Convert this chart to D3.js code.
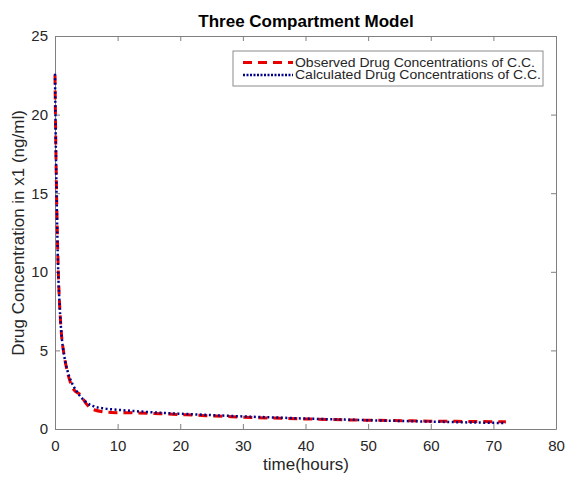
<!DOCTYPE html>
<html>
<head>
<meta charset="utf-8">
<script src="https://cdn.jsdelivr.net/npm/d3@7"></script>
<style>
body { margin: 0; background: #fff; }
text { font-family: "Liberation Sans", Arial, sans-serif; }
</style>
</head>
<body>
<svg id="chart" width="566" height="478"></svg>
<script>
// values
var obsTime = [0, 0.1, 0.25, 0.5, 0.75, 1, 1.5, 2, 3, 4, 5, 6, 9, 12, 15, 18, 21, 24, 27, 30, 36, 42, 48, 54, 60, 66, 72];
var obsConc = [22.5, 19, 15, 10.4, 7.8, 6.2, 4.6, 3.6, 2.5, 2.2, 1.6, 1.25, 1.05, 1.03, 1.0, 0.95, 0.9, 0.85, 0.8, 0.75, 0.68, 0.62, 0.57, 0.54, 0.5, 0.48, 0.46];
var calcTime = [0, 0.1, 0.25, 0.5, 0.75, 1, 1.5, 2, 2.5, 3, 4, 5, 6, 8, 10, 12, 16, 20, 24, 30, 36, 42, 48, 54, 60, 66, 72];
var calcConc = [22.6, 19, 15, 10.2, 7.8, 6.2, 4.6, 3.7, 3.1, 2.7, 2.1, 1.7, 1.47, 1.3, 1.22, 1.16, 1.05, 0.97, 0.9, 0.8, 0.72, 0.64, 0.58, 0.52, 0.47, 0.42, 0.38];
var xTicks = [0, 10, 20, 30, 40, 50, 60, 70, 80];
var yTicks = [0, 5, 10, 15, 20, 25];
var legendLabels = ["Observed Drug Concentrations of C.C.", "Calculated Drug Concentrations of C.C."];

var plotLeft = 55, plotRight = 556, plotTop = 36, plotBottom = 429;
var svg = d3.select("#chart");
var axisColor = "#808080", textColor = "#262626";

var x = d3.scaleLinear().domain([0, 80]).range([plotLeft, plotRight]);
var y = d3.scaleLinear().domain([0, 25]).range([plotBottom, plotTop]);

svg.append("rect")
	.attr("x", plotLeft).attr("y", plotTop)
	.attr("width", plotRight - plotLeft).attr("height", plotBottom - plotTop)
	.attr("fill", "#fff");

// axes, ticks pointing inward on all four sides
var styleAxis = function(g){
	g.select(".domain").attr("stroke", axisColor);
	g.selectAll(".tick line").attr("stroke", axisColor);
	g.selectAll(".tick text").attr("fill", textColor).style("font-size", "15px");
};

svg.append("g").attr("transform", "translate(0," + plotBottom + ")")
	.call(d3.axisBottom(x).tickValues(xTicks).tickSizeInner(-5).tickSizeOuter(0).tickPadding(11))
	.call(styleAxis);
svg.append("g").attr("transform", "translate(0," + plotTop + ")")
	.call(d3.axisTop(x).tickValues(xTicks).tickSizeInner(-5).tickSizeOuter(0).tickFormat(""))
	.call(styleAxis);
svg.append("g").attr("transform", "translate(" + plotLeft + ",0)")
	.call(d3.axisLeft(y).tickValues(yTicks).tickSizeInner(-5).tickSizeOuter(0).tickPadding(7))
	.call(styleAxis);
svg.append("g").attr("transform", "translate(" + plotRight + ",0)")
	.call(d3.axisRight(y).tickValues(yTicks).tickSizeInner(-5).tickSizeOuter(0).tickFormat(""))
	.call(styleAxis);

var line = d3.line().curve(d3.curveMonotoneX)
	.x(function(d){ return x(d[0]); }).y(function(d){ return y(d[1]); });

svg.append("path")
	.datum(d3.zip(obsTime, obsConc))
	.attr("d", line)
	.attr("fill", "none")
	.attr("stroke", "#e60000")
	.attr("stroke-width", 3)
	.attr("stroke-dasharray", "9,6");

svg.append("path")
	.datum(d3.zip(calcTime, calcConc))
	.attr("d", line)
	.attr("fill", "none")
	.attr("stroke", "#00008b")
	.attr("stroke-width", 2.5)
	.attr("stroke-dasharray", "2,2.5");

// title and labels
svg.append("text")
	.attr("x", 306).attr("y", 27)
	.attr("text-anchor", "middle")
	.style("font-size", "17px").style("font-weight", "bold")
	.attr("fill", "#000")
	.text("Three Compartment Model");

svg.append("text")
	.attr("x", 306).attr("y", 470)
	.attr("text-anchor", "middle")
	.style("font-size", "17px")
	.attr("fill", textColor)
	.text("time(hours)");

svg.append("text")
	.attr("transform", "translate(24,233) rotate(-90)")
	.attr("text-anchor", "middle")
	.style("font-size", "17px")
	.attr("fill", textColor)
	.text("Drug Concentration in x1 (ng/ml)");

// legend
var legend = svg.append("g").attr("transform", "translate(233,51)");
legend.append("rect")
	.attr("width", 310).attr("height", 35)
	.attr("fill", "#fff").attr("stroke", "#8c8c8c");

var legendStyles = [
	{ color: "#e60000", dash: "9,6", width: 3 },
	{ color: "#00008b", dash: "2,1.5", width: 2.5 }
];
legendLabels.forEach(function(label, i){
	var ly = 11.5 + i * 12.5;
	legend.append("line")
		.attr("x1", 10).attr("x2", 60)
		.attr("y1", ly).attr("y2", ly)
		.attr("stroke", legendStyles[i].color)
		.attr("stroke-width", legendStyles[i].width)
		.attr("stroke-dasharray", legendStyles[i].dash);
	legend.append("text")
		.attr("x", 62).attr("y", ly + 4)
		.style("font-size", "12px")
		.attr("textLength", 240 + i * 6)
		.attr("lengthAdjust", "spacingAndGlyphs")
		.attr("fill", textColor)
		.text(label);
});
</script>
</body>
</html>
